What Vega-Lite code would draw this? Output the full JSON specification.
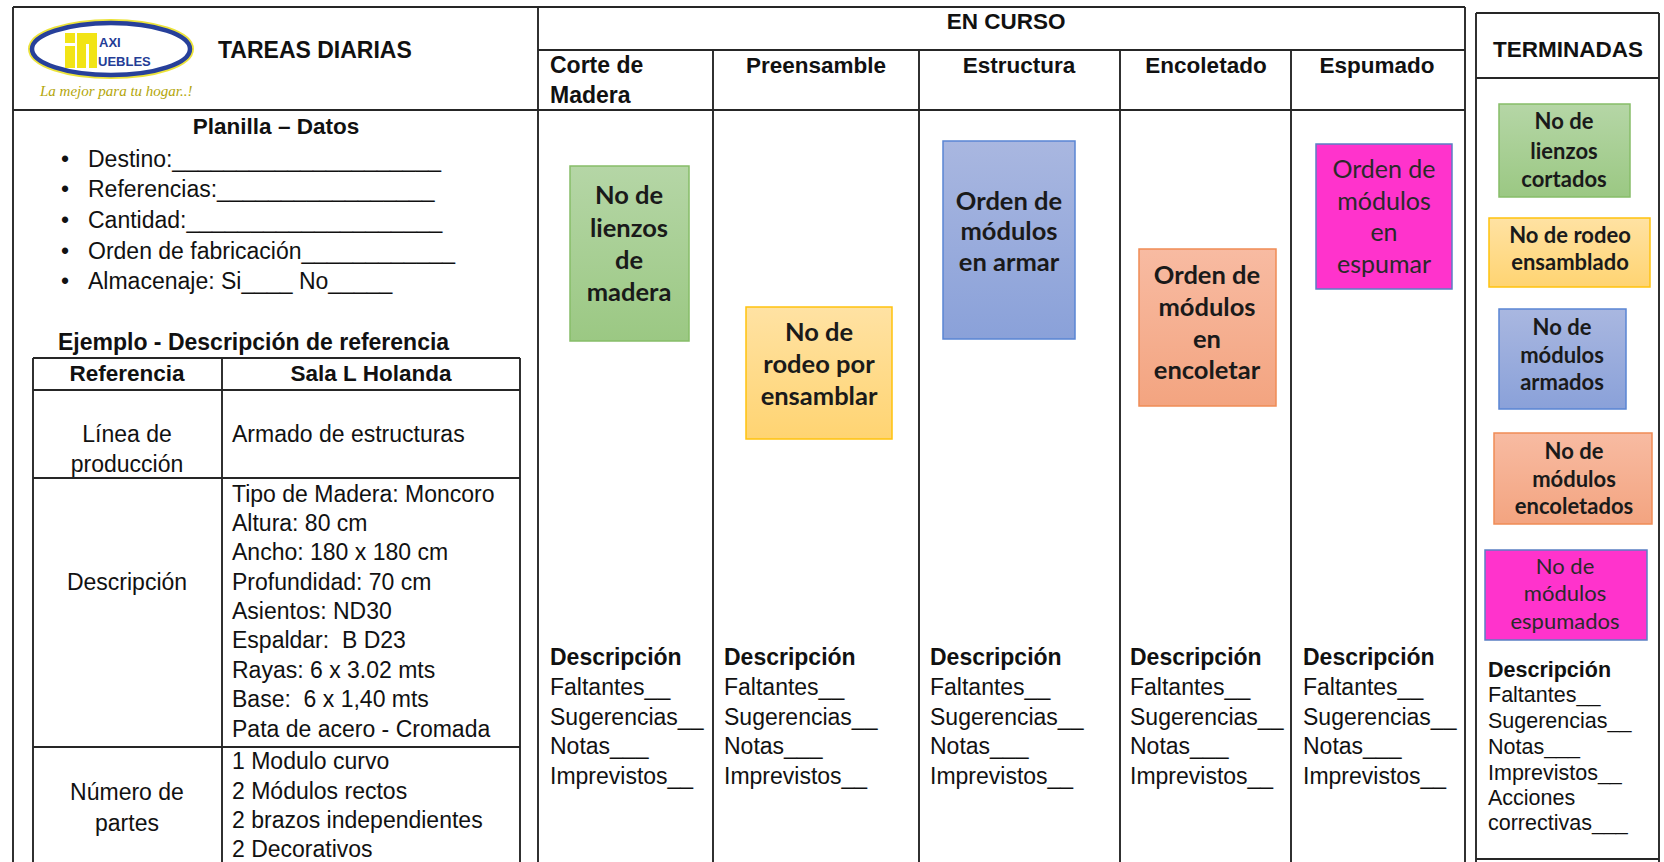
{
  "$schema": "https://vega.github.io/schema/vega-lite/v6.json",
  "width": 1664,
  "height": 862,
  "padding": 0,
  "autosize": {"type": "none"},
  "background": "white",
  "config": {"view": {"stroke": null}},
  "datasets": {
    "lines": [
      {"x": 13, "x2": 1465, "y": 7, "y2": 7},
      {"x": 13, "x2": 13, "y": 7, "y2": 862},
      {"x": 538, "x2": 538, "y": 7, "y2": 862},
      {"x": 13, "x2": 1465, "y": 110, "y2": 110},
      {"x": 538, "x2": 1465, "y": 50, "y2": 50},
      {"x": 713, "x2": 713, "y": 50, "y2": 862},
      {"x": 919, "x2": 919, "y": 50, "y2": 862},
      {"x": 1120, "x2": 1120, "y": 50, "y2": 862},
      {"x": 1291, "x2": 1291, "y": 50, "y2": 862},
      {"x": 1465, "x2": 1465, "y": 7, "y2": 862},
      {"x": 1476, "x2": 1659, "y": 13, "y2": 13},
      {"x": 1476, "x2": 1476, "y": 13, "y2": 862},
      {"x": 1659, "x2": 1659, "y": 13, "y2": 862},
      {"x": 1476, "x2": 1659, "y": 78, "y2": 78},
      {"x": 1476, "x2": 1659, "y": 859, "y2": 859},
      {"x": 33, "x2": 520, "y": 358, "y2": 358},
      {"x": 33, "x2": 520, "y": 390, "y2": 390},
      {"x": 33, "x2": 520, "y": 478, "y2": 478},
      {"x": 33, "x2": 520, "y": 747, "y2": 747},
      {"x": 33, "x2": 33, "y": 358, "y2": 862},
      {"x": 520, "x2": 520, "y": 358, "y2": 862},
      {"x": 222, "x2": 222, "y": 358, "y2": 862}
    ],
    "notes": [
      {"stage": "corte", "x": 570, "x2": 689, "y": 166, "y2": 341},
      {"stage": "preensamble", "x": 746, "x2": 892, "y": 307, "y2": 439},
      {"stage": "estructura", "x": 943, "x2": 1075, "y": 141, "y2": 339},
      {"stage": "encoletado", "x": 1139, "x2": 1276, "y": 249, "y2": 406},
      {"stage": "espumado", "x": 1316, "x2": 1452, "y": 144, "y2": 289},
      {"stage": "corte", "x": 1499, "x2": 1630, "y": 104, "y2": 197},
      {"stage": "preensamble", "x": 1489, "x2": 1650, "y": 218, "y2": 287},
      {"stage": "estructura", "x": 1499, "x2": 1626, "y": 309, "y2": 409},
      {"stage": "encoletado", "x": 1494, "x2": 1652, "y": 433, "y2": 524},
      {"stage": "espumado", "x": 1485, "x2": 1647, "y": 550, "y2": 640}
    ],
    "logo": [
      {"part": "ellipse", "x": 111, "y": 49}
    ],
    "logoBlocks": [
      {"part": "dot", "x": 65, "x2": 75, "y": 33, "y2": 43},
      {"part": "stem", "x": 65, "x2": 75, "y": 46, "y2": 68},
      {"part": "m", "x": 77, "x2": 97, "y": 33, "y2": 68}
    ],
    "logoGaps": [
      {"x": 86, "x2": 89, "y": 44, "y2": 68}
    ],
    "logoText": [
      {"text": "AXI", "x": 99, "y": 43},
      {"text": "UEBLES", "x": 98, "y": 62}
    ],
    "tagline": [
      {"text": "La mejor para tu hogar..!", "x": 40, "y": 91}
    ],
    "texts": [
      {"kind": "hb", "text": "TAREAS DIARIAS", "x": 218, "y": 51},
      {"kind": "hb", "text": "Ejemplo - Descripción de referencia", "x": 58, "y": 343},
      {"kind": "hb", "text": "Corte de", "x": 550, "y": 66},
      {"kind": "hb", "text": "Madera", "x": 550, "y": 96},
      {"kind": "hb", "text": "Descripción", "x": 550, "y": 658},
      {"kind": "hb", "text": "Descripción", "x": 724, "y": 658},
      {"kind": "hb", "text": "Descripción", "x": 930, "y": 658},
      {"kind": "hb", "text": "Descripción", "x": 1130, "y": 658},
      {"kind": "hb", "text": "Descripción", "x": 1303, "y": 658},
      {"kind": "hc", "text": "Planilla – Datos", "x": 276, "y": 127},
      {"kind": "hc", "text": "Referencia", "x": 127, "y": 374},
      {"kind": "hc", "text": "Sala L Holanda", "x": 371, "y": 374},
      {"kind": "hc", "text": "EN CURSO", "x": 1006, "y": 22},
      {"kind": "hc", "text": "Preensamble", "x": 816, "y": 66},
      {"kind": "hc", "text": "Estructura", "x": 1019, "y": 66},
      {"kind": "hc", "text": "Encoletado", "x": 1206, "y": 66},
      {"kind": "hc", "text": "Espumado", "x": 1377, "y": 66},
      {"kind": "hc", "text": "TERMINADAS", "x": 1568, "y": 50},
      {"kind": "b", "text": "•", "x": 61, "y": 160},
      {"kind": "b", "text": "•", "x": 61, "y": 190},
      {"kind": "b", "text": "•", "x": 61, "y": 221},
      {"kind": "b", "text": "•", "x": 61, "y": 252},
      {"kind": "b", "text": "•", "x": 61, "y": 282},
      {"kind": "b", "text": "Destino:_____________________", "x": 88, "y": 160},
      {"kind": "b", "text": "Referencias:_________________", "x": 88, "y": 190},
      {"kind": "b", "text": "Cantidad:____________________", "x": 88, "y": 221},
      {"kind": "b", "text": "Orden de fabricación____________", "x": 88, "y": 252},
      {"kind": "b", "text": "Almacenaje: Si____ No_____", "x": 88, "y": 282},
      {"kind": "b", "text": "Armado de estructuras", "x": 232, "y": 435},
      {"kind": "b", "text": "Tipo de Madera: Moncoro", "x": 232, "y": 495},
      {"kind": "b", "text": "Altura: 80 cm", "x": 232, "y": 524},
      {"kind": "b", "text": "Ancho: 180 x 180 cm", "x": 232, "y": 553},
      {"kind": "b", "text": "Profundidad: 70 cm", "x": 232, "y": 583},
      {"kind": "b", "text": "Asientos: ND30", "x": 232, "y": 612},
      {"kind": "b", "text": "Espaldar:\u00a0 B D23", "x": 232, "y": 641},
      {"kind": "b", "text": "Rayas: 6 x 3.02 mts", "x": 232, "y": 671},
      {"kind": "b", "text": "Base:\u00a0 6 x 1,40 mts", "x": 232, "y": 700},
      {"kind": "b", "text": "Pata de acero - Cromada", "x": 232, "y": 730},
      {"kind": "b", "text": "1 Modulo curvo", "x": 232, "y": 762},
      {"kind": "b", "text": "2 Módulos rectos", "x": 232, "y": 792},
      {"kind": "b", "text": "2 brazos independientes", "x": 232, "y": 821},
      {"kind": "b", "text": "2 Decorativos", "x": 232, "y": 850},
      {"kind": "b", "text": "Faltantes__", "x": 550, "y": 688},
      {"kind": "b", "text": "Sugerencias__", "x": 550, "y": 718},
      {"kind": "b", "text": "Notas___", "x": 550, "y": 747},
      {"kind": "b", "text": "Imprevistos__", "x": 550, "y": 777},
      {"kind": "b", "text": "Faltantes__", "x": 724, "y": 688},
      {"kind": "b", "text": "Sugerencias__", "x": 724, "y": 718},
      {"kind": "b", "text": "Notas___", "x": 724, "y": 747},
      {"kind": "b", "text": "Imprevistos__", "x": 724, "y": 777},
      {"kind": "b", "text": "Faltantes__", "x": 930, "y": 688},
      {"kind": "b", "text": "Sugerencias__", "x": 930, "y": 718},
      {"kind": "b", "text": "Notas___", "x": 930, "y": 747},
      {"kind": "b", "text": "Imprevistos__", "x": 930, "y": 777},
      {"kind": "b", "text": "Faltantes__", "x": 1130, "y": 688},
      {"kind": "b", "text": "Sugerencias__", "x": 1130, "y": 718},
      {"kind": "b", "text": "Notas___", "x": 1130, "y": 747},
      {"kind": "b", "text": "Imprevistos__", "x": 1130, "y": 777},
      {"kind": "b", "text": "Faltantes__", "x": 1303, "y": 688},
      {"kind": "b", "text": "Sugerencias__", "x": 1303, "y": 718},
      {"kind": "b", "text": "Notas___", "x": 1303, "y": 747},
      {"kind": "b", "text": "Imprevistos__", "x": 1303, "y": 777},
      {"kind": "bc", "text": "Línea de", "x": 127, "y": 435},
      {"kind": "bc", "text": "producción", "x": 127, "y": 465},
      {"kind": "bc", "text": "Descripción", "x": 127, "y": 583},
      {"kind": "bc", "text": "Número de", "x": 127, "y": 793},
      {"kind": "bc", "text": "partes", "x": 127, "y": 824},
      {"kind": "tb", "text": "Descripción", "x": 1488, "y": 671},
      {"kind": "t", "text": "Faltantes__", "x": 1488, "y": 696},
      {"kind": "t", "text": "Sugerencias__", "x": 1488, "y": 722},
      {"kind": "t", "text": "Notas___", "x": 1488, "y": 748},
      {"kind": "t", "text": "Imprevistos__", "x": 1488, "y": 774},
      {"kind": "t", "text": "Acciones", "x": 1488, "y": 799},
      {"kind": "t", "text": "correctivas___", "x": 1488, "y": 824},
      {"kind": "n", "text": "No de", "x": 629, "y": 196},
      {"kind": "n", "text": "lienzos", "x": 629, "y": 229},
      {"kind": "n", "text": "de", "x": 629, "y": 261},
      {"kind": "n", "text": "madera", "x": 629, "y": 293},
      {"kind": "n", "text": "No de", "x": 819, "y": 333},
      {"kind": "n", "text": "rodeo por", "x": 819, "y": 365},
      {"kind": "n", "text": "ensamblar", "x": 819, "y": 397},
      {"kind": "n", "text": "Orden de", "x": 1009, "y": 202},
      {"kind": "n", "text": "módulos", "x": 1009, "y": 232},
      {"kind": "n", "text": "en armar", "x": 1009, "y": 263},
      {"kind": "n", "text": "Orden de", "x": 1207, "y": 276},
      {"kind": "n", "text": "módulos", "x": 1207, "y": 308},
      {"kind": "n", "text": "en", "x": 1207, "y": 340},
      {"kind": "n", "text": "encoletar", "x": 1207, "y": 371},
      {"kind": "np", "text": "Orden de", "x": 1384, "y": 170},
      {"kind": "np", "text": "módulos", "x": 1384, "y": 202},
      {"kind": "np", "text": "en", "x": 1384, "y": 233},
      {"kind": "np", "text": "espumar", "x": 1384, "y": 265},
      {"kind": "tn", "text": "No de", "x": 1564, "y": 122},
      {"kind": "tn", "text": "lienzos", "x": 1564, "y": 152},
      {"kind": "tn", "text": "cortados", "x": 1564, "y": 180},
      {"kind": "tn", "text": "No de rodeo", "x": 1570, "y": 236},
      {"kind": "tn", "text": "ensamblado", "x": 1570, "y": 263},
      {"kind": "tn", "text": "No de", "x": 1562, "y": 328},
      {"kind": "tn", "text": "módulos", "x": 1562, "y": 356},
      {"kind": "tn", "text": "armados", "x": 1562, "y": 383},
      {"kind": "tn", "text": "No de", "x": 1574, "y": 452},
      {"kind": "tn", "text": "módulos", "x": 1574, "y": 480},
      {"kind": "tn", "text": "encoletados", "x": 1574, "y": 507},
      {"kind": "tnp", "text": "No de", "x": 1565, "y": 567},
      {"kind": "tnp", "text": "módulos", "x": 1565, "y": 594},
      {"kind": "tnp", "text": "espumados", "x": 1565, "y": 622}
    ]
  },
  "encoding": {
    "x": {"field": "x", "type": "quantitative", "scale": {"domain": [0, 1664], "nice": false, "zero": false}, "axis": null},
    "y": {"field": "y", "type": "quantitative", "scale": {"domain": [0, 862], "nice": false, "zero": false, "reverse": true}, "axis": null}
  },
  "layer": [
    {
      "data": {"name": "notes"},
      "transform": [{"filter": "datum.stage === 'corte'"}],
      "mark": {"type": "rect", "stroke": "#86bd68", "strokeWidth": 1.5,
        "fill": {"gradient": "linear", "x1": 0, "y1": 0, "x2": 0, "y2": 1, "stops": [{"offset": 0, "color": "#b5d6a6"}, {"offset": 1, "color": "#9bc883"}]}},
      "encoding": {"x2": {"field": "x2"}, "y2": {"field": "y2"}}
    },
    {
      "data": {"name": "notes"},
      "transform": [{"filter": "datum.stage === 'preensamble'"}],
      "mark": {"type": "rect", "stroke": "#ffc20e", "strokeWidth": 1.5,
        "fill": {"gradient": "linear", "x1": 0, "y1": 0, "x2": 0, "y2": 1, "stops": [{"offset": 0, "color": "#ffe2a3"}, {"offset": 1, "color": "#ffd472"}]}},
      "encoding": {"x2": {"field": "x2"}, "y2": {"field": "y2"}}
    },
    {
      "data": {"name": "notes"},
      "transform": [{"filter": "datum.stage === 'estructura'"}],
      "mark": {"type": "rect", "stroke": "#5a85d3", "strokeWidth": 1.5,
        "fill": {"gradient": "linear", "x1": 0, "y1": 0, "x2": 0, "y2": 1, "stops": [{"offset": 0, "color": "#a9b7e0"}, {"offset": 1, "color": "#8aa1d9"}]}},
      "encoding": {"x2": {"field": "x2"}, "y2": {"field": "y2"}}
    },
    {
      "data": {"name": "notes"},
      "transform": [{"filter": "datum.stage === 'encoletado'"}],
      "mark": {"type": "rect", "stroke": "#ef8c55", "strokeWidth": 1.5,
        "fill": {"gradient": "linear", "x1": 0, "y1": 0, "x2": 0, "y2": 1, "stops": [{"offset": 0, "color": "#f8bba2"}, {"offset": 1, "color": "#f3a480"}]}},
      "encoding": {"x2": {"field": "x2"}, "y2": {"field": "y2"}}
    },
    {
      "data": {"name": "notes"},
      "transform": [{"filter": "datum.stage === 'espumado'"}],
      "mark": {"type": "rect", "stroke": "#5b7fc4", "strokeWidth": 1.5, "fill": "#ff33cc"},
      "encoding": {"x2": {"field": "x2"}, "y2": {"field": "y2"}}
    },
    {
      "data": {"name": "lines"},
      "mark": {"type": "rule", "color": "#262626", "strokeWidth": 1.9},
      "encoding": {"x2": {"field": "x2"}, "y2": {"field": "y2"}}
    },
    {
      "data": {"name": "logo"},
      "mark": {"type": "point", "shape": "M -1 0 A 1 0.33 0 1 1 1 0 A 1 0.33 0 1 1 -1 0 Z", "size": 24964, "filled": false, "fill": "white", "fillOpacity": 1, "stroke": "#ece33a", "strokeWidth": 8, "opacity": 1}
    },
    {
      "data": {"name": "logo"},
      "mark": {"type": "point", "shape": "M -1 0 A 1 0.33 0 1 1 1 0 A 1 0.33 0 1 1 -1 0 Z", "size": 24964, "filled": false, "fill": "white", "fillOpacity": 1, "stroke": "#27409a", "strokeWidth": 4.5, "opacity": 1}
    },
    {
      "data": {"name": "logoBlocks"},
      "mark": {"type": "rect", "fill": "#f2e415"},
      "encoding": {"x2": {"field": "x2"}, "y2": {"field": "y2"}}
    },
    {
      "data": {"name": "logoGaps"},
      "mark": {"type": "rect", "fill": "white"},
      "encoding": {"x2": {"field": "x2"}, "y2": {"field": "y2"}}
    },
    {
      "data": {"name": "logoText"},
      "mark": {"type": "text", "align": "left", "baseline": "middle", "font": "Liberation Sans", "fontWeight": "bold", "fontSize": 13, "color": "#243c96"},
      "encoding": {"text": {"field": "text"}}
    },
    {
      "data": {"name": "tagline"},
      "mark": {"type": "text", "align": "left", "baseline": "middle", "font": "Liberation Serif", "fontStyle": "italic", "fontSize": 15, "color": "#b3a60a"},
      "encoding": {"text": {"field": "text"}}
    },
    {
      "data": {"name": "texts"},
      "transform": [{"filter": "datum.kind === 'hb'"}],
      "mark": {"type": "text", "align": "left", "baseline": "middle", "font": "Liberation Sans", "fontWeight": "bold", "fontSize": 23, "color": "#111111"},
      "encoding": {"text": {"field": "text"}}
    },
    {
      "data": {"name": "texts"},
      "transform": [{"filter": "datum.kind === 'hc'"}],
      "mark": {"type": "text", "align": "center", "baseline": "middle", "font": "Liberation Sans", "fontWeight": "bold", "fontSize": 22.5, "color": "#111111"},
      "encoding": {"text": {"field": "text"}}
    },
    {
      "data": {"name": "texts"},
      "transform": [{"filter": "datum.kind === 'b'"}],
      "mark": {"type": "text", "align": "left", "baseline": "middle", "font": "Liberation Sans", "fontSize": 23, "color": "#111111"},
      "encoding": {"text": {"field": "text"}}
    },
    {
      "data": {"name": "texts"},
      "transform": [{"filter": "datum.kind === 'bc'"}],
      "mark": {"type": "text", "align": "center", "baseline": "middle", "font": "Liberation Sans", "fontSize": 23, "color": "#111111"},
      "encoding": {"text": {"field": "text"}}
    },
    {
      "data": {"name": "texts"},
      "transform": [{"filter": "datum.kind === 'tb'"}],
      "mark": {"type": "text", "align": "left", "baseline": "middle", "font": "Liberation Sans", "fontWeight": "bold", "fontSize": 21.5, "color": "#111111"},
      "encoding": {"text": {"field": "text"}}
    },
    {
      "data": {"name": "texts"},
      "transform": [{"filter": "datum.kind === 't'"}],
      "mark": {"type": "text", "align": "left", "baseline": "middle", "font": "Liberation Sans", "fontSize": 21.5, "color": "#111111"},
      "encoding": {"text": {"field": "text"}}
    },
    {
      "data": {"name": "texts"},
      "transform": [{"filter": "datum.kind === 'n'"}],
      "mark": {"type": "text", "align": "center", "baseline": "middle", "font": "Lato", "fontWeight": "bold", "fontSize": 25.5, "color": "#1a1a1a"},
      "encoding": {"text": {"field": "text"}}
    },
    {
      "data": {"name": "texts"},
      "transform": [{"filter": "datum.kind === 'np'"}],
      "mark": {"type": "text", "align": "center", "baseline": "middle", "font": "Lato", "fontSize": 25, "color": "#2a2a2a"},
      "encoding": {"text": {"field": "text"}}
    },
    {
      "data": {"name": "texts"},
      "transform": [{"filter": "datum.kind === 'tn'"}],
      "mark": {"type": "text", "align": "center", "baseline": "middle", "font": "Lato", "fontWeight": "bold", "fontSize": 22, "color": "#1a1a1a"},
      "encoding": {"text": {"field": "text"}}
    },
    {
      "data": {"name": "texts"},
      "transform": [{"filter": "datum.kind === 'tnp'"}],
      "mark": {"type": "text", "align": "center", "baseline": "middle", "font": "Lato", "fontSize": 22, "color": "#2a2a2a"},
      "encoding": {"text": {"field": "text"}}
    }
  ]
}
